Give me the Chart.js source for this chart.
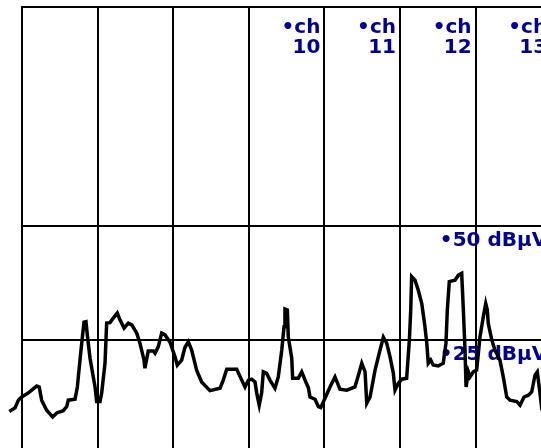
<!DOCTYPE html>
<html>
<head>
<meta charset="utf-8">
<title>2.4 GHz spectrum</title>
<script src="https://cdn.jsdelivr.net/npm/chart.js@4/dist/chart.umd.min.js"></script>
<style>
  html, body { margin: 0; padding: 0; background: #ffffff; overflow: hidden; }
  canvas { display: block; }
</style>
</head>
<body>
<canvas id="spectrum" width="589" height="454"></canvas>
<script>
// Wi-Fi channel numbers and their centre frequencies (MHz)
const channels     = [6, 7, 8, 9, 10, 11, 12, 13];
const channelFreqs = [2437, 2442, 2447, 2452, 2457, 2462, 2467, 2472];
const labeledChannels = [10, 11, 12, 13];

// Reference level lines (dBµV)
const levelLines = [25, 50];

// Visible frequency span and level span
const freqRange  = [2437, 2474.5];
const levelRange = [0, 98];

// Measured spectrum trace
const freqMHz = [
  2436.16, 2436.54, 2436.76, 2436.98, 2437.42, 2437.97, 2438.14, 2438.30, 2438.63, 2439.03,
  2439.30, 2439.73, 2439.96, 2440.06, 2440.51, 2440.66, 2440.79, 2440.95, 2441.10, 2441.23,
  2441.32, 2441.50, 2441.83, 2441.94, 2442.16, 2442.27, 2442.49, 2442.60, 2442.82, 2443.04,
  2443.30, 2443.48, 2443.75, 2444.03, 2444.26, 2444.59, 2444.80, 2445.07, 2445.13, 2445.35,
  2445.68, 2445.80, 2446.01, 2446.24, 2446.46, 2446.79, 2447.12, 2447.27, 2447.56, 2447.78,
  2448.00, 2448.22, 2448.55, 2448.88, 2449.43, 2450.10, 2450.31, 2450.54, 2451.20, 2451.53,
  2451.75, 2451.97, 2452.19, 2452.41, 2452.52, 2452.69, 2452.85, 2452.96, 2453.18, 2453.40,
  2453.73, 2453.95, 2454.18, 2454.33, 2454.39, 2454.55, 2454.61, 2454.84, 2454.90, 2455.27,
  2455.50, 2455.72, 2455.94, 2456.05, 2456.38, 2456.60, 2456.76, 2457.04, 2457.37, 2457.70,
  2458.03, 2458.48, 2459.02, 2459.31, 2459.47, 2459.69, 2459.80, 2460.02, 2460.35, 2460.68,
  2460.90, 2461.12, 2461.34, 2461.56, 2461.67, 2461.89, 2462.11, 2462.44, 2462.62, 2462.71,
  2462.77, 2462.99, 2463.21, 2463.44, 2463.65, 2463.77, 2463.87, 2464.03, 2464.20, 2464.53,
  2464.86, 2465.04, 2465.13, 2465.26, 2465.64, 2465.86, 2466.08, 2466.19, 2466.30, 2466.37,
  2466.52, 2466.63, 2466.85, 2467.07, 2467.29, 2467.51, 2467.67, 2467.77, 2467.84, 2468.07,
  2468.28, 2468.61, 2468.83, 2469.06, 2469.28, 2469.72, 2469.94, 2470.20, 2470.49, 2470.71,
  2470.93, 2471.08, 2471.26, 2471.39
];
const levelDbuV = [
   9.3, 10.1, 11.8, 12.5, 13.4, 14.9, 14.7, 11.8,  9.6,  8.1,
   9.0,  9.5, 10.4, 11.8, 12.0, 14.7, 19.1, 24.3, 28.9, 29.0,
  26.1, 21.0, 14.7, 11.5, 11.5, 13.4, 19.9, 28.7, 28.8, 29.8,
  30.9, 29.4, 27.6, 28.7, 28.3, 26.5, 24.3, 20.6, 18.8, 22.6,
  22.6, 22.1, 23.5, 26.5, 26.1, 24.5, 21.3, 19.5, 20.6, 23.4,
  24.6, 22.8, 18.4, 15.8, 13.9, 14.4, 16.2, 18.6, 18.6, 16.2,
  14.7, 16.2, 16.4, 15.8, 13.4, 10.7, 13.4, 18.0, 17.7, 16.2,
  14.4, 16.9, 22.8, 27.9, 31.8, 31.6, 25.7, 21.0, 16.6, 16.6,
  18.0, 16.2, 14.5, 12.5, 12.0, 10.4, 10.2, 12.2, 14.7, 16.9,
  14.2, 14.0, 14.7, 18.0, 19.9, 18.0, 11.1, 12.5, 18.4, 22.8,
  25.6, 24.3, 21.3, 17.7, 14.0, 15.5, 16.4, 16.6, 25.0, 31.6,
  38.9, 38.1, 35.9, 33.0, 27.9, 24.3, 19.9, 20.6, 19.5, 19.3,
  19.9, 24.3, 31.6, 37.8, 38.1, 39.2, 39.6, 31.6, 22.8, 14.7,
  18.0, 16.9, 18.0, 18.4, 25.7, 30.1, 33.0, 31.6, 28.6, 25.0,
  22.8, 20.6, 16.9, 12.5, 11.8, 11.5, 10.7, 12.5, 12.9, 13.6,
  17.3, 18.0, 13.3,  9.6
];

const labelColor = '#000096';
const labelFont = 'bold 20px "DejaVu Sans", Verdana, sans-serif';

const points = freqMHz.map((f, i) => ({ x: f, y: levelDbuV[i] }));

// Channel and level captions, drawn over the grid
const captions = {
  id: 'captions',
  beforeDatasetsDraw(chart) {
    const { ctx, scales: { x, y } } = chart;
    ctx.save();
    ctx.font = labelFont;
    ctx.fillStyle = labelColor;
    ctx.textAlign = 'right';
    ctx.textBaseline = 'alphabetic';
    const top = chart.chartArea.top;
    labeledChannels.forEach(ch => {
      const px = x.getPixelForValue(channelFreqs[channels.indexOf(ch)]) - 4;
      ctx.fillText('\u2022ch', px, top + 26);
      ctx.fillText(String(ch), px, top + 46);
    });
    const rightPx = x.getPixelForValue(channelFreqs[channels.length - 1]) - 4;
    levelLines.forEach(level => {
      ctx.fillText('\u2022' + level + ' dB\u00B5V', rightPx, y.getPixelForValue(level) + 20);
    });
    ctx.restore();
  }
};

new Chart(document.getElementById('spectrum'), {
  type: 'line',
  data: {
    datasets: [{
      data: points,
      borderColor: '#000000',
      borderWidth: 3.5,
      pointRadius: 0,
      tension: 0,
      fill: false,
      clip: false
    }]
  },
  options: {
    responsive: false,
    animation: false,
    devicePixelRatio: 1,
    layout: { padding: { left: 22, top: 7, right: 0, bottom: 0 } },
    plugins: { legend: { display: false }, tooltip: { enabled: false } },
    scales: {
      x: {
        type: 'linear',
        position: 'top',
        bounds: 'data',
        afterDataLimits(scale) { scale.min = freqRange[0]; scale.max = freqRange[1]; },
        afterBuildTicks(scale) { scale.ticks = channelFreqs.map(v => ({ value: v })); },
        grid: { color: '#000000', lineWidth: 2, drawTicks: false },
        border: { display: true, color: '#000000', width: 2 },
        ticks: { display: false }
      },
      y: {
        type: 'linear',
        min: levelRange[0],
        max: levelRange[1],
        afterBuildTicks(scale) { scale.ticks = levelLines.map(v => ({ value: v })); },
        grid: { color: '#000000', lineWidth: 2, drawTicks: false },
        border: { display: true, color: '#000000', width: 2 },
        ticks: { display: false }
      }
    }
  },
  plugins: [captions]
});
</script>
</body>
</html>
